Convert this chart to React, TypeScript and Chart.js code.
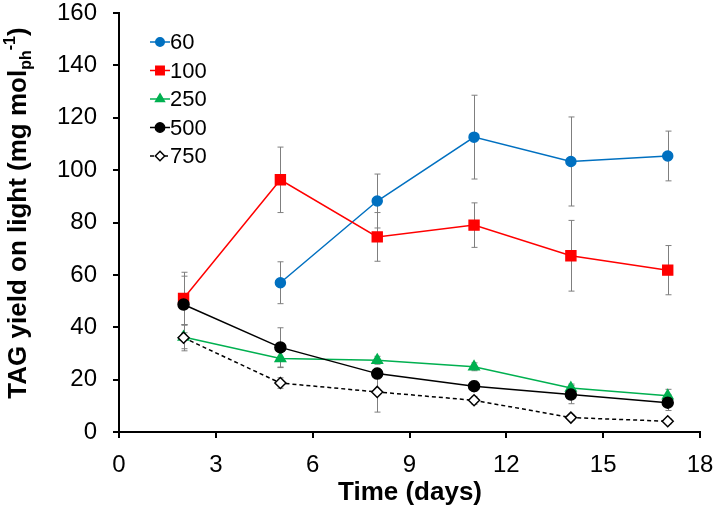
import React, { useEffect, useRef } from 'react';
import { Chart, registerables } from 'chart.js';

Chart.register(...registerables);

const days = [2, 5, 8, 11, 14, 17];
const seriesNames = ['60', '100', '250', '500', '750'];
const s60 = [null, 57, 88.2, 112.6, 103.3, 105.4];
const s60Err = [null, 8, 10.3, 16, 17, 9.5];
const s100 = [51, 96.3, 74.5, 79, 67.3, 61.8];
const s100Err = [10, 12.5, 9.3, 8.5, 13.5, 9.4];
const s250 = [36.3, 28.1, 27.4, 24.9, 16.8, 13.8];
const s250Err = [4.5, 3.5, 1.5, 1.5, 1.5, 2.5];
const s500 = [48.7, 32.3, 22.3, 17.5, 14.3, 11.2];
const s500Err = [10.8, 7.5, 2, 2, 3.5, 3];
const s750 = [36, 18.7, 15.3, 12.1, 5.5, 4.1];
const s750Err = [5, 2, 7.7, 1.5, 1, 1];
const xTicks = [0, 3, 6, 9, 12, 15, 18];
const yTicks = [0, 20, 40, 60, 80, 100, 120, 140, 160];

const xTitle = 'Time (days)';
const yTitleMain = 'TAG yield on light (mg mol';
const yTitleSub = 'ph';
const yTitleSup = '-1';
const yTitleEnd = ')';

const FONT = '"Liberation Sans", Arial, sans-serif';

const values = [s60, s100, s250, s500, s750];
const errors = [s60Err, s100Err, s250Err, s500Err, s750Err];
const colors = ['#0070C0', '#FF0000', '#00B050', '#000000', '#000000'];
const fills = ['#0070C0', '#FF0000', '#00B050', '#000000', '#FFFFFF'];
const styles = ['circle', 'rect', 'triangle', 'circle', 'rectRot'];
const radii = [5, 7, 6, 5.5, 5.5];
const dashes = [[], [], [], [], [4, 3]];

function drawMarker(ctx: CanvasRenderingContext2D, style: string, x: number, y: number, r: number) {
  ctx.beginPath();
  if (style === 'circle') {
    ctx.arc(x, y, r, 0, Math.PI * 2);
  } else if (style === 'rect') {
    const s = r * Math.SQRT1_2;
    ctx.rect(x - s, y - s, 2 * s, 2 * s);
  } else if (style === 'triangle') {
    for (let k = 0; k < 3; k++) {
      const a = (k * 2 * Math.PI) / 3;
      const px = x + Math.sin(a) * r;
      const py = y - Math.cos(a) * r;
      if (k === 0) ctx.moveTo(px, py);
      else ctx.lineTo(px, py);
    }
    ctx.closePath();
  } else if (style === 'rectRot') {
    ctx.moveTo(x, y - r);
    ctx.lineTo(x + r, y);
    ctx.lineTo(x, y + r);
    ctx.lineTo(x - r, y);
    ctx.closePath();
  }
  ctx.fill();
  ctx.stroke();
}

const errorBarPlugin = {
  id: 'errorBars',
  beforeDatasetsDraw(chart: any) {
    const { ctx, scales } = chart;
    const xs = scales.x;
    const ys = scales.y;
    ctx.save();
    ctx.strokeStyle = '#7f7f7f';
    ctx.lineWidth = 1;
    values.forEach((arr, i) => {
      arr.forEach((v, j) => {
        const e = errors[i][j];
        if (v == null || e == null) return;
        const x = Math.round(xs.getPixelForValue(days[j])) + 0.5;
        const yt = ys.getPixelForValue(v + e);
        const yb = ys.getPixelForValue(v - e);
        ctx.beginPath();
        ctx.moveTo(x, yt);
        ctx.lineTo(x, yb);
        ctx.moveTo(x - 3, yt);
        ctx.lineTo(x + 3, yt);
        ctx.moveTo(x - 3, yb);
        ctx.lineTo(x + 3, yb);
        ctx.stroke();
      });
    });
    ctx.restore();
  },
};

const overlayPlugin = {
  id: 'overlay',
  afterDraw(chart: any) {
    const { ctx } = chart;
    ctx.save();
    // legend
    const lx = 160;
    const ly0 = 42;
    const step = 28.5;
    seriesNames.forEach((name, i) => {
      const y = ly0 + i * step;
      ctx.strokeStyle = colors[i];
      ctx.lineWidth = 1.5;
      ctx.setLineDash(dashes[i]);
      ctx.beginPath();
      ctx.moveTo(lx - 10, y);
      ctx.lineTo(lx + 10, y);
      ctx.stroke();
      ctx.setLineDash([]);
      ctx.fillStyle = fills[i];
      ctx.strokeStyle = colors[i];
      ctx.lineWidth = 1.5;
      drawMarker(ctx, styles[i], lx, y, radii[i] * 0.85);
      ctx.fillStyle = '#000';
      ctx.font = `22px ${FONT}`;
      ctx.textBaseline = 'middle';
      ctx.textAlign = 'left';
      ctx.fillText(name, lx + 10, y + 1);
    });
    // x title
    ctx.fillStyle = '#000';
    ctx.font = `bold 26px ${FONT}`;
    ctx.textAlign = 'center';
    ctx.textBaseline = 'alphabetic';
    ctx.fillText(xTitle, 410, 500);
    // y title
    ctx.translate(26, 213);
    ctx.rotate(-Math.PI / 2);
    const big = `bold 26px ${FONT}`;
    const small = `bold 16px ${FONT}`;
    ctx.font = big;
    const w1 = ctx.measureText(yTitleMain).width;
    const w4 = ctx.measureText(yTitleEnd).width;
    ctx.font = small;
    const w2 = ctx.measureText(yTitleSub).width;
    const w3 = ctx.measureText(yTitleSup).width;
    const total = w1 + w2 + w3 + w4;
    let x = -total / 2;
    ctx.textAlign = 'left';
    ctx.font = big;
    ctx.fillText(yTitleMain, x, 0);
    x += w1;
    ctx.font = small;
    ctx.fillText(yTitleSub, x, 5);
    x += w2;
    ctx.fillText(yTitleSup, x, -11);
    x += w3;
    ctx.font = big;
    ctx.fillText(yTitleEnd, x, 0);
    ctx.restore();
  },
};

export default function App() {
  const ref = useRef<HTMLCanvasElement>(null);
  useEffect(() => {
    if (!ref.current) return;
    const datasets = values.map((arr, i) => ({
      label: seriesNames[i],
      data: days
        .map((d, j) => ({ x: d, y: arr[j] }))
        .filter((p) => p.y != null),
      borderColor: colors[i],
      backgroundColor: fills[i],
      pointBackgroundColor: fills[i],
      pointBorderColor: colors[i],
      pointBorderWidth: 1.5,
      pointStyle: styles[i],
      pointRadius: radii[i],
      borderWidth: 1.5,
      borderDash: dashes[i],
      order: 5 - i,
    }));
    const chart = new Chart(ref.current, {
      type: 'line',
      data: { datasets: datasets as any },
      options: {
        animation: false,
        responsive: false,
        layout: { padding: { top: 13, right: 19, left: 0, bottom: 0 } },
        plugins: { legend: { display: false }, tooltip: { enabled: false } },
        scales: {
          x: {
            type: 'linear',
            min: 0,
            max: 18,
            afterBuildTicks: (s: any) => {
              s.ticks = xTicks.map((v) => ({ value: v }));
            },
            afterFit: (s: any) => {
              s.height = 81;
              s.paddingLeft = 0;
              s.paddingRight = 0;
            },
            ticks: { color: '#000', font: { size: 24, family: FONT }, padding: 13, maxRotation: 0 },
            grid: { drawOnChartArea: false, drawTicks: true, tickLength: 6, color: '#000', lineWidth: 2 },
            border: { color: '#000', width: 2 },
          },
          y: {
            min: 0,
            max: 160,
            afterBuildTicks: (s: any) => {
              s.ticks = yTicks.map((v) => ({ value: v }));
            },
            afterFit: (s: any) => {
              s.width = 119;
              s.paddingTop = 0;
              s.paddingBottom = 0;
            },
            ticks: { color: '#000', font: { size: 24, family: FONT }, padding: 16 },
            grid: { drawOnChartArea: false, drawTicks: true, tickLength: 6, color: '#000', lineWidth: 2 },
            border: { color: '#000', width: 2 },
          },
        },
      },
      plugins: [errorBarPlugin, overlayPlugin],
    });
    return () => chart.destroy();
  }, []);
  return (
    <div style={{ position: 'absolute', left: 0, top: 0, width: 719, height: 513, background: '#fff' }}>
      <canvas ref={ref} width={719} height={513} style={{ display: 'block' }} />
    </div>
  );
}
